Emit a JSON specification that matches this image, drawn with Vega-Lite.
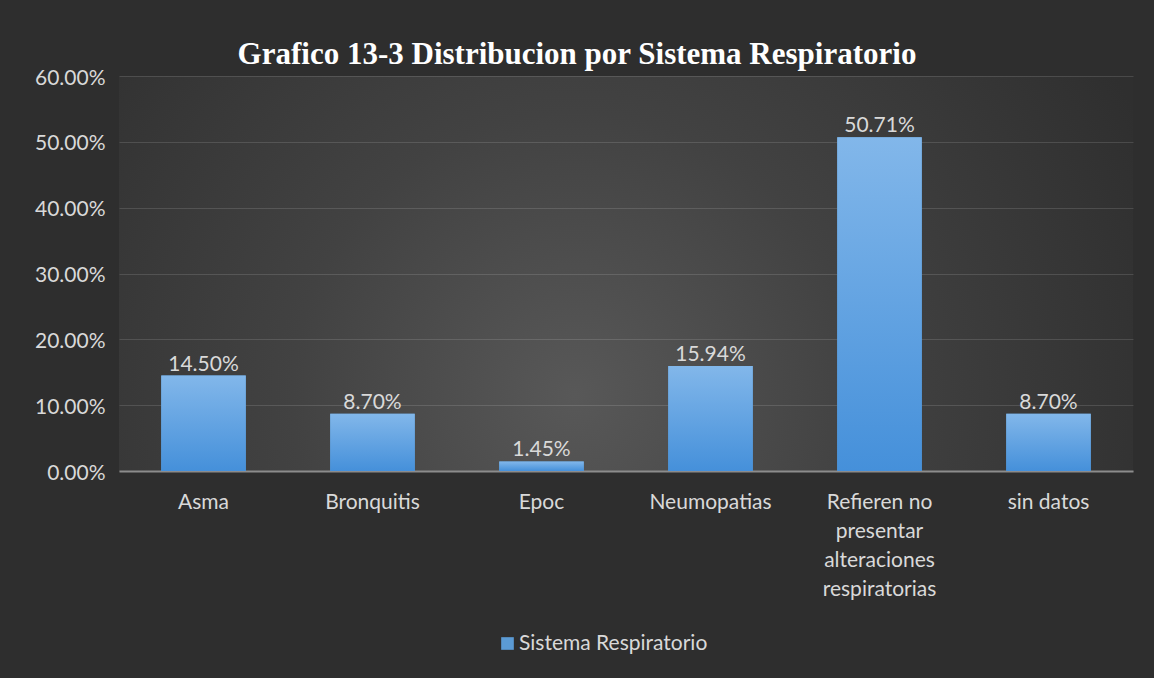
{
  "$schema": "https://vega.github.io/schema/vega-lite/v6.json",
  "width": 1014,
  "height": 395,
  "autosize": {"type": "none"},
  "padding": {"left": 119, "top": 76, "right": 21, "bottom": 207},
  "background": "#2e2e2e",
  "title": {
    "text": "Grafico 13-3 Distribucion por Sistema Respiratorio",
    "font": "Liberation Serif",
    "fontSize": 31,
    "fontWeight": "bold",
    "color": "#ffffff",
    "anchor": "middle",
    "dx": -49,
    "dy": 41,
    "offset": 13,
    "baseline": "alphabetic"
  },
  "view": {
    "stroke": null,
    "fill": {
      "gradient": "radial",
      "x1": 0.45, "y1": 0.62, "r1": 0,
      "x2": 0.45, "y2": 0.62, "r2": 0.62,
      "stops": [
        {"offset": 0, "color": "#585858"},
        {"offset": 0.45, "color": "#424242"},
        {"offset": 1, "color": "#2f2f2f"}
      ]
    }
  },
  "data": {
    "values": [
      {"categoria": "Asma", "porcentaje": 0.145, "serie": "Sistema Respiratorio"},
      {"categoria": "Bronquitis", "porcentaje": 0.087, "serie": "Sistema Respiratorio"},
      {"categoria": "Epoc", "porcentaje": 0.0145, "serie": "Sistema Respiratorio"},
      {"categoria": "Neumopatias", "porcentaje": 0.1594, "serie": "Sistema Respiratorio"},
      {"categoria": "Refieren no presentar alteraciones respiratorias", "porcentaje": 0.5071, "serie": "Sistema Respiratorio"},
      {"categoria": "sin datos", "porcentaje": 0.087, "serie": "Sistema Respiratorio"}
    ]
  },
  "encoding": {
    "x": {
      "field": "categoria",
      "type": "nominal",
      "sort": null,
      "scale": {"paddingInner": 0.5, "paddingOuter": 0.25},
      "axis": {
        "title": null,
        "labelAngle": 0,
        "ticks": false,
        "grid": false,
        "domainColor": "#8c8c8c",
        "domainWidth": 2,
        "labelFont": "Lato",
        "labelFontSize": 21,
        "labelColor": "#d9d9d9",
        "labelPadding": 37,
        "labelBaseline": "alphabetic",
        "labelLineHeight": 29,
        "labelLimit": 0,
        "labelExpr": "datum.label == 'Refieren no presentar alteraciones respiratorias' ? ['Refieren no', 'presentar', 'alteraciones', 'respiratorias'] : datum.label"
      }
    },
    "y": {
      "field": "porcentaje",
      "type": "quantitative",
      "scale": {"domain": [0, 0.6]},
      "axis": {
        "title": null,
        "domain": false,
        "ticks": false,
        "values": [0, 0.1, 0.2, 0.3, 0.4, 0.5, 0.6],
        "format": ".2%",
        "labelFont": "Lato",
        "labelFontSize": 21,
        "labelColor": "#d9d9d9",
        "labelPadding": 14,
        "labelOffset": 2,
        "grid": true,
        "gridColor": "#ffffff",
        "gridOpacity": 0.13
      }
    }
  },
  "layer": [
    {
      "mark": {"type": "bar"},
      "encoding": {
        "color": {
          "field": "serie",
          "type": "nominal",
          "scale": {"range": ["#5b9bd5"]},
          "legend": {
            "orient": "none",
            "legendX": 378,
            "legendY": 557,
            "title": null,
            "symbolType": "square",
            "symbolSize": 160,
            "symbolStrokeWidth": 0,
            "labelFont": "Lato",
            "labelFontSize": 21,
            "labelColor": "#d9d9d9",
            "labelOffset": 1,
            "labelLimit": 400,
            "padding": 0
          }
        }
      }
    },
    {
      "mark": {
        "type": "bar",
        "fill": {
          "gradient": "linear",
          "x1": 0, "y1": 0, "x2": 0, "y2": 1,
          "stops": [
            {"offset": 0, "color": "#82b7ea"},
            {"offset": 1, "color": "#4590da"}
          ]
        }
      }
    },
    {
      "mark": {
        "type": "text",
        "baseline": "alphabetic",
        "dy": -5,
        "font": "Lato",
        "fontSize": 21,
        "color": "#d9d9d9"
      },
      "encoding": {
        "text": {"field": "porcentaje", "type": "quantitative", "format": ".2%"}
      }
    }
  ]
}
